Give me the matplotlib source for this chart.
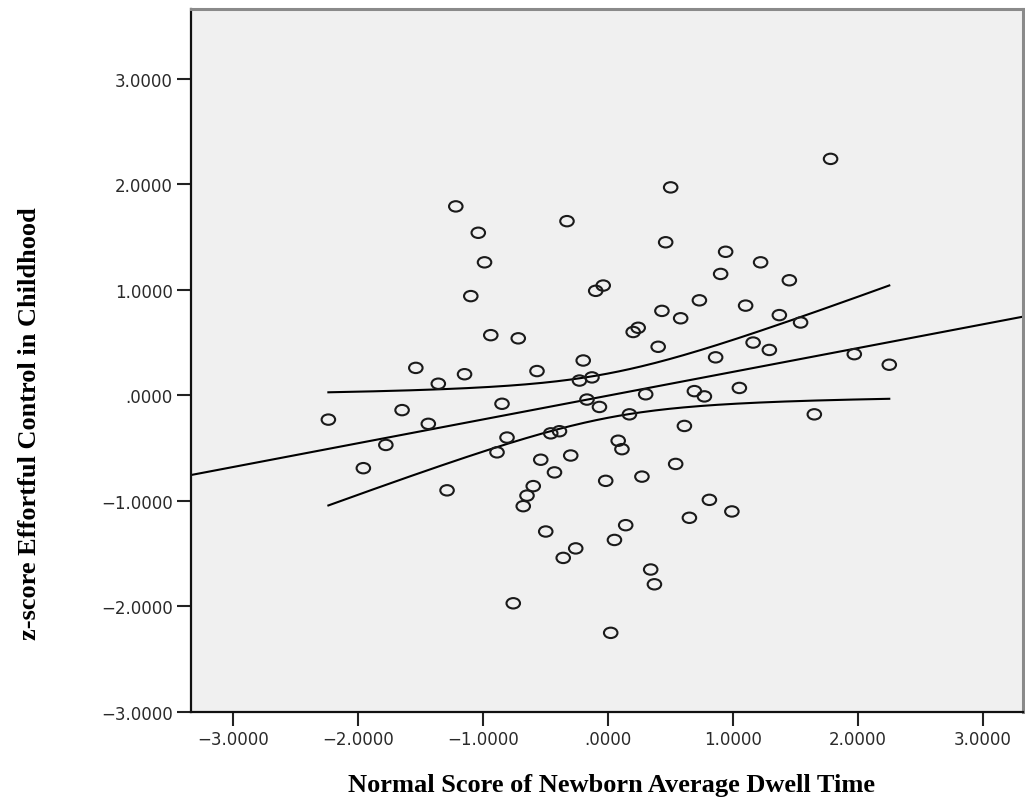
import matplotlib
matplotlib.use("Agg")
import matplotlib.pyplot as plt
import numpy as np
from matplotlib.markers import MarkerStyle
from matplotlib.transforms import Affine2D
from matplotlib.ticker import FuncFormatter

# normal scores of newborn dwell time and childhood effortful control z-scores
dwell_nscore = [-2.24, -1.96, -1.78, -1.65, -1.54, -1.44, -1.36, -1.29, -1.22, -1.15,
                -1.10, -1.04, -0.99, -0.94, -0.89, -0.85, -0.81, -0.76, -0.72, -0.68,
                -0.65, -0.60, -0.57, -0.54, -0.50, -0.46, -0.43, -0.39, -0.36, -0.33,
                -0.30, -0.26, -0.23, -0.20, -0.17, -0.13, -0.10, -0.07, -0.04, -0.02,
                0.02, 0.05, 0.08, 0.11, 0.14, 0.17, 0.20, 0.24, 0.27, 0.30,
                0.34, 0.37, 0.40, 0.43, 0.46, 0.50, 0.54, 0.58, 0.61, 0.65,
                0.69, 0.73, 0.77, 0.81, 0.86, 0.90, 0.94, 0.99, 1.05, 1.10,
                1.16, 1.22, 1.29, 1.37, 1.45, 1.54, 1.65, 1.78, 1.97, 2.25]
effortful_z = [-0.23, -0.69, -0.47, -0.14, 0.26, -0.27, 0.11, -0.90, 1.79, 0.20,
               0.94, 1.54, 1.26, 0.57, -0.54, -0.08, -0.40, -1.97, 0.54, -1.05,
               -0.95, -0.86, 0.23, -0.61, -1.29, -0.36, -0.73, -0.34, -1.54, 1.65,
               -0.57, -1.45, 0.14, 0.33, -0.04, 0.17, 0.99, -0.11, 1.04, -0.81,
               -2.25, -1.37, -0.43, -0.51, -1.23, -0.18, 0.60, 0.64, -0.77, 0.01,
               -1.65, -1.79, 0.46, 0.80, 1.45, 1.97, -0.65, 0.73, -0.29, -1.16,
               0.04, 0.90, -0.01, -0.99, 0.36, 1.15, 1.36, -1.10, 0.07, 0.85,
               0.50, 1.26, 0.43, 0.76, 1.09, 0.69, -0.18, 2.24, 0.39, 0.29]

tick_values = [-3, -2, -1, 0, 1, 2, 3]

x = np.array(dwell_nscore)
y = np.array(effortful_z)
n = len(x)

# linear fit with 95% confidence band for the mean
slope, intercept = np.polyfit(x, y, 1)
resid = y - (intercept + slope * x)
s = np.sqrt(np.sum(resid ** 2) / (n - 2))
sxx = np.sum((x - x.mean()) ** 2)
t_crit = 1.991  # t(0.975, df=78)

xlim = (-3.34, 3.32)
ylim = (-3.0, 3.66)
x_fit = np.linspace(*xlim, 200)
x_band = np.linspace(x.min(), x.max(), 200)
fit_band = intercept + slope * x_band
half = t_crit * s * np.sqrt(1 / n + (x_band - x.mean()) ** 2 / sxx)

fig = plt.figure(figsize=(10.25, 8.12), dpi=100)
ax = fig.add_axes([0.1863, 0.1219, 0.8117, 0.8658])
ax.set_facecolor('#f0f0f0')

ax.plot(x_fit, intercept + slope * x_fit, color='black', lw=1.5, zorder=2)
ax.plot(x_band, fit_band + half, color='black', lw=1.5, zorder=2)
ax.plot(x_band, fit_band - half, color='black', lw=1.5, zorder=2)

oval = MarkerStyle('o', transform=Affine2D().scale(1.3, 1.0))
ax.scatter(x, y, marker=oval, s=56, facecolors='none', edgecolors='#1a1a1a',
           linewidths=1.5, zorder=3)

ax.set_xlim(*xlim)
ax.set_ylim(*ylim)
ax.set_xticks(tick_values)
ax.set_yticks(tick_values)


def spss_fmt(v, pos):
    if abs(v) < 1e-9:
        return '.0000'
    txt = f'{abs(v):.4f}'
    return ('\u2212' + txt) if v < 0 else txt


ax.xaxis.set_major_formatter(FuncFormatter(spss_fmt))
ax.yaxis.set_major_formatter(FuncFormatter(spss_fmt))
ax.tick_params(axis='both', length=10, width=1.5, color='#222222',
               labelsize=12, labelcolor='#2a2a2a', pad=3)

for side in ['left', 'bottom']:
    ax.spines[side].set_color('#111111')
    ax.spines[side].set_linewidth(1.6)
for side in ['top', 'right']:
    ax.spines[side].set_color('#8a8a8a')
    ax.spines[side].set_linewidth(2.2)

label_font = dict(family='Liberation Serif', weight='bold', size=19, color='black')
fig.text(612 / 1025, 1 - 786 / 812, 'Normal Score of Newborn Average Dwell Time',
         ha='center', va='center', **label_font)
fig.text(30 / 1025, 1 - 424 / 812, 'z-score Effortful Control in Childhood',
         ha='center', va='center', rotation=90, **label_font)

fig.savefig('out.png', dpi=100, facecolor='white')
plt.close(fig)
